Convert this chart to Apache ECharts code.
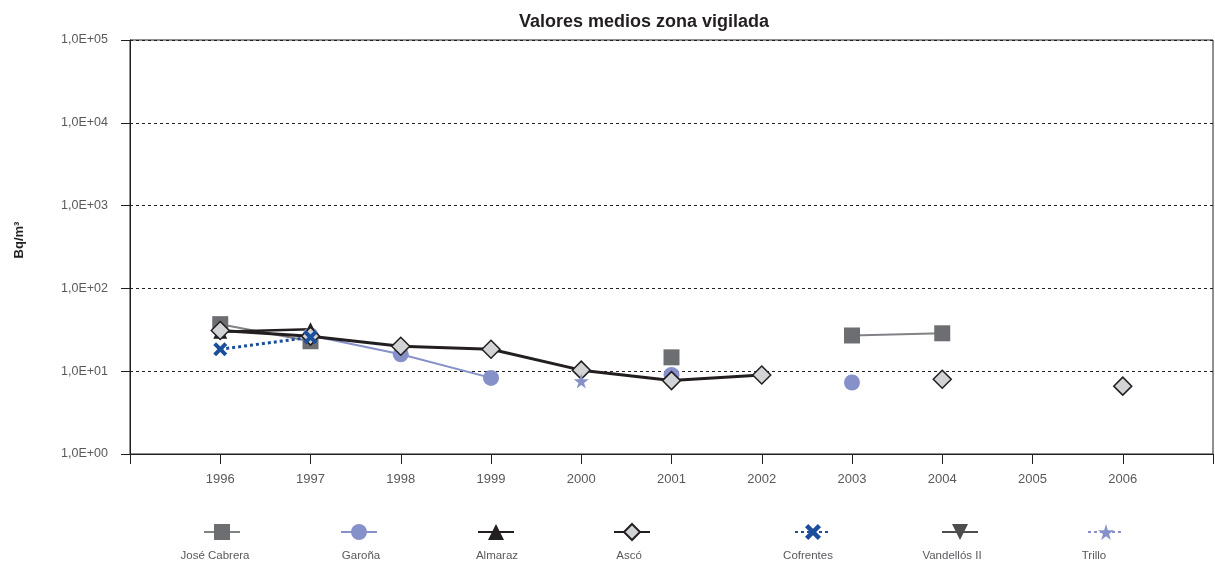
<!DOCTYPE html>
<html>
<head>
<meta charset="utf-8">
<script src="https://cdn.jsdelivr.net/npm/echarts@6/dist/echarts.min.js"></script>
<style>
  html, body { margin: 0; padding: 0; background: #fff; }
  #chart { width: 1215px; height: 566px; }
</style>
</head>
<body>
<div id="chart"></div>
<script>
// Years on the horizontal axis
const years = [1996, 1997, 1998, 1999, 2000, 2001, 2002, 2003, 2004, 2005, 2006];

// Mean activity in the monitored zone (Bq/m3); null = no measurement
const joseCabrera = [37, 23, null, null, null, 14.7, null, 27, 28.7, null, null];
const garona      = [null, 27, 16, 8.3, null, 9.0, null, 7.3, null, null, null];
const almaraz     = [30, 32, null, null, null, null, null, null, null, null, null];
const asco        = [31, 26.5, 20, 18.4, 10.3, 7.7, 9.0, null, 8.0, null, 6.6];
const cofrentes   = [18.4, 25.7, null, null, null, null, null, null, null, null, null];
const vandellos   = [null, null, null, null, null, null, null, null, null, null, null];
const trillo      = [null, null, null, null, 7.6, null, null, null, null, null, null];

// Y axis tick labels (decades)
const yTickLabels = ['1,0E+00', '1,0E+01', '1,0E+02', '1,0E+03', '1,0E+04', '1,0E+05'];

const FONT = '"Liberation Sans", Arial, sans-serif';

const xSymbol = 'path://M2,0 L5,3 L8,0 L10,2 L7,5 L10,8 L8,10 L5,7 L2,10 L0,8 L3,5 L0,2 Z';
const starSymbol = 'path://M50,0 L61,35 L98,35 L68,57 L79,91 L50,70 L21,91 L32,57 L2,35 L39,35 Z';

function pairs(values) {
  return years.map((y, i) => [y, values[i]]);
}

const seriesDefs = [
  { name: 'José Cabrera', data: joseCabrera, symbol: 'rect', size: 16,
    color: '#6d6e71', lineColor: '#808285', width: 2, type: 'solid',
    legendX: 221, labelX: 215 },
  { name: 'Garoña', data: garona, symbol: 'circle', size: 16,
    color: '#8591c8', lineColor: '#8591c8', width: 2, type: 'solid',
    legendX: 358, labelX: 361 },
  { name: 'Almaraz', data: almaraz, symbol: 'triangle', size: 14,
    color: '#231f20', lineColor: '#231f20', width: 2.5, type: 'solid',
    legendX: 495, labelX: 497 },
  { name: 'Ascó', data: asco, symbol: 'diamond', size: 18,
    color: '#d1d3d4', border: '#231f20', lineColor: '#231f20', width: 3, type: 'solid',
    legendX: 631, labelX: 629 },
  { name: 'Cofrentes', data: cofrentes, symbol: xSymbol, size: 14,
    color: '#1b4f9c', lineColor: '#1b4f9c', width: 3, type: [3, 3],
    legendX: 812, labelX: 808 },
  { name: 'Vandellós II', data: vandellos, symbol: 'triangle', rotate: 180, size: 14,
    color: '#4d4d4f', lineColor: '#4d4d4f', width: 2.5, type: 'solid',
    legendX: 959, labelX: 952 },
  { name: 'Trillo', data: trillo, symbol: starSymbol, size: 15,
    color: '#8591c8', lineColor: '#8591c8', width: 2, type: [3, 3],
    legendX: 1105, labelX: 1094 }
];

const series = seriesDefs.map(d => ({
  name: d.name,
  type: 'line',
  data: pairs(d.data),
  connectNulls: false,
  symbol: d.symbol,
  symbolSize: d.size,
  symbolRotate: d.rotate || 0,
  showAllSymbol: true,
  animation: false,
  itemStyle: {
    color: d.color,
    borderColor: d.border || d.color,
    borderWidth: d.border ? 1.5 : 0,
    opacity: 1
  },
  lineStyle: { color: d.lineColor, width: d.width, type: d.type },
  emphasis: { disabled: true }
}));

const ICON_W = 36, ICON_H = 20;
const legends = seriesDefs.map(d => ({
  data: [d.name],
  left: d.legendX - ICON_W / 2,
  top: 532 - ICON_H / 2,
  itemWidth: ICON_W,
  itemHeight: ICON_H,
  itemGap: 0,
  padding: 0,
  selectedMode: false,
  formatter: () => '',
  textStyle: { fontSize: 1 }
}));

const legendLabels = seriesDefs.map(d => ({
  type: 'text',
  x: d.labelX,
  y: 556,
  style: {
    text: d.name,
    fill: '#58595b',
    font: '11.5px ' + FONT,
    textAlign: 'center',
    textVerticalAlign: 'middle'
  }
}));

const chart = echarts.init(document.getElementById('chart'), null, { renderer: 'canvas' });

chart.setOption({
  animation: false,
  backgroundColor: '#ffffff',
  textStyle: { fontFamily: FONT },
  title: {
    text: 'Valores medios zona vigilada',
    left: 639,
    top: 8,
    textAlign: 'center',
    textStyle: { fontFamily: FONT, fontSize: 18, fontWeight: 'bold', color: '#231f20' }
  },
  grid: {
    left: 130, right: 2, top: 40, bottom: 112,
    containLabel: false,
    outerBoundsMode: 'none',
    show: true, borderColor: '#231f20', borderWidth: 1, backgroundColor: 'transparent'
  },
  xAxis: {
    type: 'value',
    min: 1995,
    max: 2007,
    interval: 1,
    axisLine: { show: true, lineStyle: { color: '#231f20', width: 1 } },
    axisTick: { show: true, length: 10, inside: false, lineStyle: { color: '#231f20' } },
    axisLabel: {
      margin: 19,
      color: '#58595b',
      fontSize: 13,
      fontFamily: FONT,
      formatter: v => (v === 1995 || v === 2007) ? '' : String(v)
    },
    splitLine: { show: false }
  },
  yAxis: {
    type: 'log',
    logBase: 10,
    min: 1,
    max: 100000,
    name: 'Bq/m³',
    nameLocation: 'middle',
    nameGap: 104,
    nameTextStyle: {
      fontFamily: FONT, fontSize: 13, fontWeight: 'bold', color: '#231f20',
      padding: [0, 0, 0, 14]
    },
    axisLine: { show: true, lineStyle: { color: '#231f20', width: 1 } },
    axisTick: { show: true, length: 9, inside: false, lineStyle: { color: '#231f20' } },
    axisLabel: {
      margin: 22,
      color: '#58595b',
      fontSize: 12.5,
      fontFamily: FONT,
      formatter: v => yTickLabels[Math.round(Math.log10(v))]
    },
    splitLine: { show: true, lineStyle: { color: '#231f20', type: [3, 3], width: 1 } }
  },
  legend: legends,
  graphic: legendLabels,
  series: series
});
</script>
</body>
</html>
